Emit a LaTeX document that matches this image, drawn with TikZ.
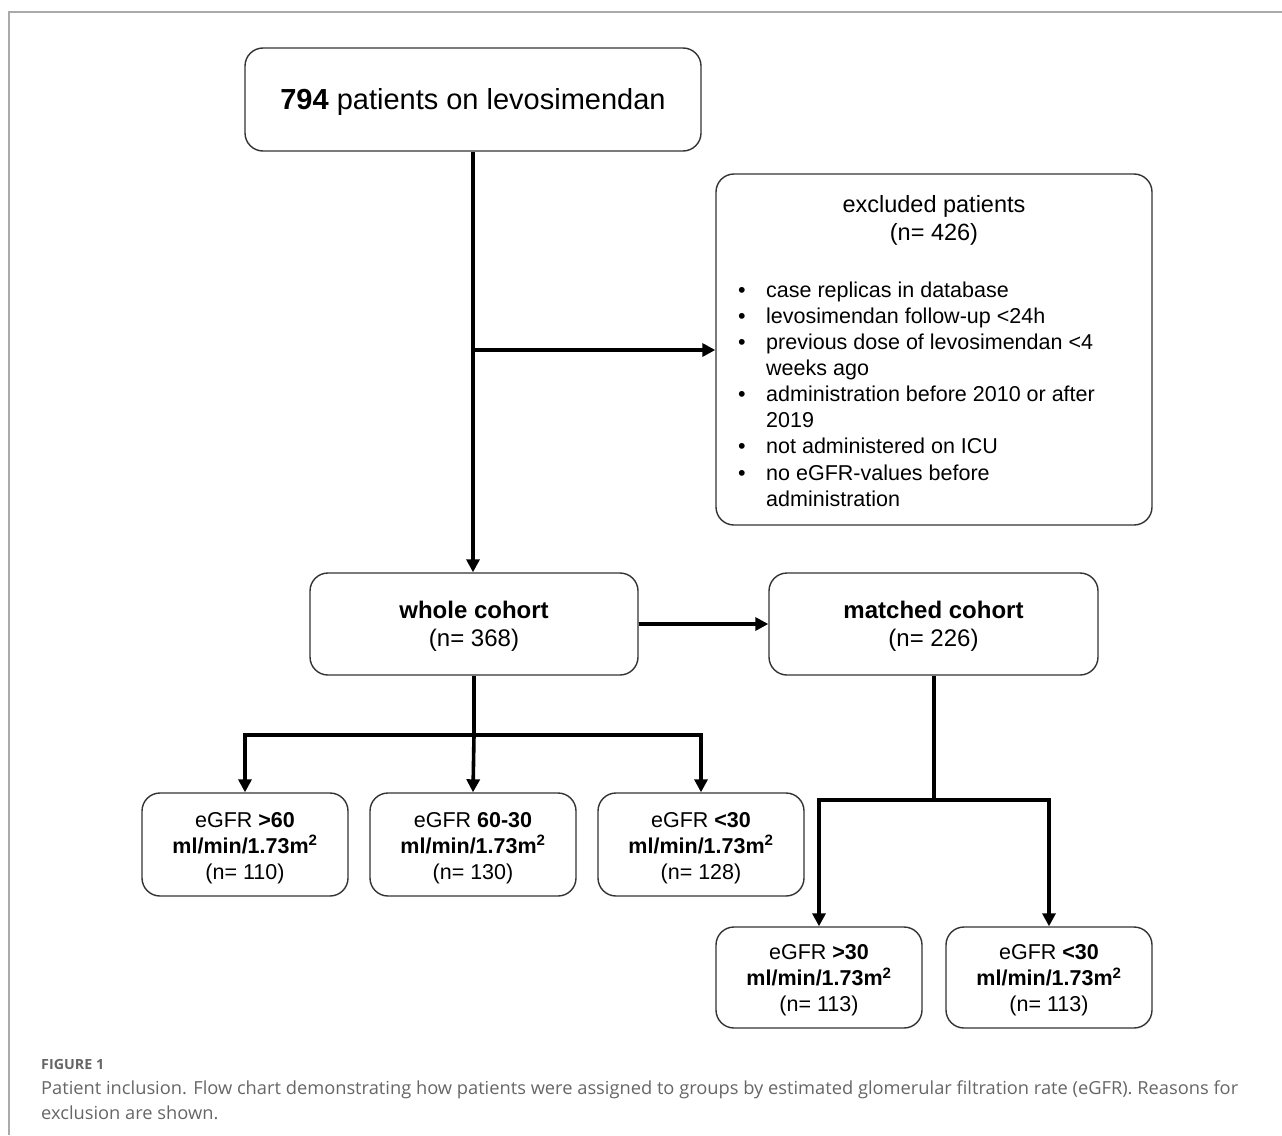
\documentclass[tikz,border=0pt]{standalone}
\usepackage{fontspec}
\usepackage{graphicx}
\setmainfont{Liberation Sans}
\newfontfamily\capfont{Open Sans}
\usetikzlibrary{arrows.meta}
\definecolor{framegray}{HTML}{AAAAAA}
\definecolor{capgray}{HTML}{666666}
\definecolor{boxline}{HTML}{333333}
\newlength\capw
\newcommand\capone{Patient inclusion. Flow chart demonstrating how patients were assigned to groups by estimated glomerular filtration rate (eGFR). Reasons for}
\AtBeginDocument{%
  \settowidth{\capw}{\capfont\fontsize{18}{22}\selectfont\capone}%
  \pgfmathsetmacro\capfac{1197/\capw}%
}
\tikzset{
  box/.style={draw=boxline, line width=1.4pt, rounded corners=18pt, inner sep=0pt},
  txt/.style={inner sep=0pt, align=center},
  conn/.style={line width=3.6pt, black},
  arr/.style={conn, -{Triangle[length=13pt,width=13pt]}},
  exline/.style={anchor=base west, inner sep=0pt, font=\fontsize{21.5}{26}\selectfont},
  gbox/.style={box, minimum width=206pt, minimum height=103pt},
  gtxt/.style={txt, font=\fontsize{21.5}{26}\selectfont},
}
\begin{document}
\begin{tikzpicture}[x=1pt,y=-1pt]
\useasboundingbox (0,0) rectangle (1282,1135);
% frame
\draw[framegray, line width=1.5pt] (9,1135) -- (9,12) -- (1282,12);
% top box
\node[box, minimum width=456pt, minimum height=103pt] (top) at (473,99.5) {};
\node[txt, font=\fontsize{29}{34}\selectfont] (topt) at ([yshift=-3pt]top.center) {\textbf{794} patients on levosimendan};
% excluded
\node[box, minimum width=436pt, minimum height=351pt] (excl) at (934,349.5) {};
\node[txt, font=\fontsize{23.5}{28}\selectfont] (extitle) at (934,220) {excluded patients\\(n= 426)};
\foreach \n/\ty/\bul/\txt in {
  1/297/1/case replicas in database,
  2/323/1/levosimendan follow-up <24h,
  3/349/1/previous dose of levosimendan <4,
  4/375/0/weeks ago,
  5/401/1/administration before 2010 or after,
  6/427/0/2019,
  7/453/1/not administered on ICU,
  8/480/1/no eGFR-values before,
  9/506/0/administration}{
  \node[exline] (ex\n) at (766,\ty) {\txt};
  \ifnum\bul=1 \node[exline] (exb\n) at (738,\ty) {\textbullet}; \fi
}
% cohorts
\node[box, minimum width=328pt, minimum height=102pt] (whole) at (474,624) {};
\node[txt, font=\fontsize{24}{28}\selectfont] (wholet) at ([yshift=-2pt]whole.center) {\textbf{whole cohort}\\(n= 368)};
\node[box, minimum width=329pt, minimum height=102pt] (matched) at (933.5,624) {};
\node[txt, font=\fontsize{24}{28}\selectfont] (matchedt) at ([yshift=-2pt]matched.center) {\textbf{matched cohort}\\(n= 226)};
% groups
\node[gbox] (g1) at (245,844.5) {};
\node[gtxt] (g1t) at ([yshift=-3.5pt]g1.center) {eGFR \textbf{>60}\\\textbf{ml/min/1.73m\textsuperscript{2}}\\(n= 110)};
\node[gbox] (g2) at (473,844.5) {};
\node[gtxt] (g2t) at ([yshift=-3.5pt]g2.center) {eGFR \textbf{60-30}\\\textbf{ml/min/1.73m\textsuperscript{2}}\\(n= 130)};
\node[gbox] (g3) at (701,844.5) {};
\node[gtxt] (g3t) at ([yshift=-3.5pt]g3.center) {eGFR \textbf{<30}\\\textbf{ml/min/1.73m\textsuperscript{2}}\\(n= 128)};
\node[gbox, minimum height=101pt] (m1) at (819,977.5) {};
\node[gtxt] (m1t) at ([yshift=-3pt]m1.center) {eGFR \textbf{>30}\\\textbf{ml/min/1.73m\textsuperscript{2}}\\(n= 113)};
\node[gbox, minimum height=101pt] (m2) at (1049,977.5) {};
\node[gtxt] (m2t) at ([yshift=-3pt]m2.center) {eGFR \textbf{<30}\\\textbf{ml/min/1.73m\textsuperscript{2}}\\(n= 113)};
% connectors
\draw[arr] (top.south) -- (top.south |- whole.north);
\coordinate (br1) at (473,350);
\draw[arr] (br1) -- (br1 -| excl.west);
\draw[arr] (whole.east) -- (matched.west);
\coordinate (wb) at (474,735);
\draw[conn] (whole.south) -- (wb);
\draw[conn, line cap=rect] (g1.north |- wb) -- (g3.north |- wb);
\draw[arr] (g1.north |- wb) -- (g1.north);
\draw[arr] (wb) -- (g2.north);
\draw[arr] (g3.north |- wb) -- (g3.north);
\coordinate (mb) at (934,800);
\draw[conn] (matched.south -| mb) -- (mb);
\draw[conn, line cap=rect] (m1.north |- mb) -- (m2.north |- mb);
\draw[arr] (m1.north |- mb) -- (m1.north);
\draw[arr] (m2.north |- mb) -- (m2.north);
% caption
\node[anchor=base west, inner sep=0pt, text=capgray, font=\capfont\bfseries\fontsize{14}{16}\selectfont] (figlab) at (41,1069) {\scalebox{1.02}[1]{FIGURE 1}};
\node[anchor=base west, inner sep=0pt, text=capgray, font=\capfont\fontsize{18}{22}\selectfont] (cap1) at (41,1094) {\scalebox{\capfac}[1]{\capone}};
\node[anchor=base west, inner sep=0pt, text=capgray, font=\capfont\fontsize{18}{22}\selectfont] (cap2) at (41,1119) {\scalebox{\capfac}[1]{exclusion are shown.}};
\end{tikzpicture}
\end{document}
